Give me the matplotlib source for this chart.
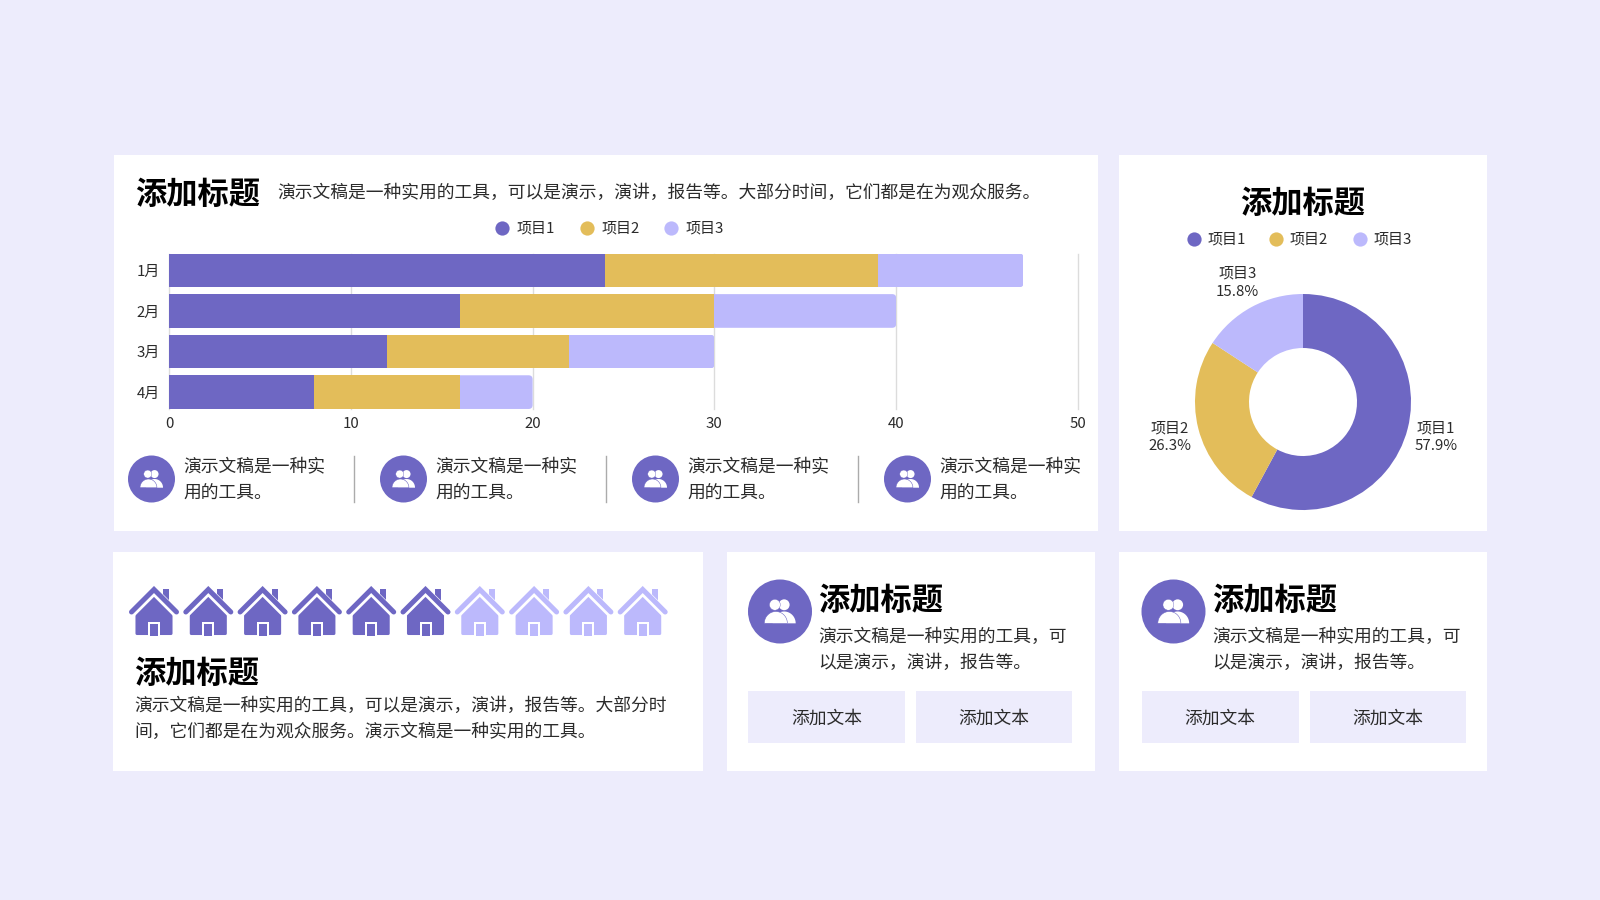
import numpy as np
import matplotlib
matplotlib.use("Agg")
import matplotlib.pyplot as plt
from matplotlib.patches import Rectangle, Circle, Polygon, FancyBboxPatch

plt.rcParams['font.family'] = ['Noto Sans CJK SC', 'DejaVu Sans']

# data
months = ["1月", "2月", "3月", "4月"]
item1 = [24, 16, 12, 8]
item2 = [15, 14, 10, 8]
item3 = [8, 10, 8, 4]
x_ticks = [0, 10, 20, 30, 40, 50]
names = ["项目1", "项目2", "项目3"]
pie_values = [22, 10, 6]
houses_total = 10
houses_on = 6

title = "添加标题"
long_text = "演示文稿是一种实用的工具，可以是演示，演讲，报告等。大部分时间，它们都是在为观众服务。"
short_lines = ["演示文稿是一种实", "用的工具。"]
card_lines = ["演示文稿是一种实用的工具，可", "以是演示，演讲，报告等。"]
wide_lines = ["演示文稿是一种实用的工具，可以是演示，演讲，报告等。大部分时", "间，它们都是在为观众服务。演示文稿是一种实用的工具。"]
button_text = "添加文本"

PURPLE = "#6E67C3"
GOLD = "#E3BD5A"
LAV = "#BCB9FC"
BG = "#EDECFC"
TXT = "#2B2B2B"
colors = [PURPLE, GOLD, LAV]

BODY = 12.8
SMALL = 10.8
HEAD = 22.5

fig = plt.figure(figsize=(16, 9), dpi=100, facecolor=BG)

# page layer in pixel coordinates
page = fig.add_axes([0, 0, 1, 1])
page.set_xlim(0, 1600)
page.set_ylim(900, 0)
page.axis("off")


def px_axes(left, top, right, bottom):
    return fig.add_axes([left / 1600, 1 - bottom / 900, (right - left) / 1600, (bottom - top) / 900])


def panel(x0, y0, x1, y1, color="white"):
    page.add_patch(Rectangle((x0, y0), x1 - x0, y1 - y0, fc=color, ec="none"))


def put(x, y, s, size=BODY, weight="normal", color=TXT, ha="left"):
    page.text(x, y, s, fontsize=size, fontweight=weight, color=color, ha=ha, va="center")


def people_icon(cx, cy, r):
    page.add_patch(Circle((cx, cy), r, fc=PURPLE, ec="none"))
    t = np.linspace(np.pi, 0, 40)
    # back person
    page.add_patch(Circle((cx + 0.13 * r, cy - 0.21 * r), 0.17 * r, fc="white", ec="none"))
    page.add_patch(Polygon(np.c_[cx + 0.13 * r + 0.36 * r * np.cos(t), cy + 0.37 * r - 0.37 * r * np.sin(t)],
                           fc="white", ec="none"))
    # front person, thin gap against the back one
    page.add_patch(Circle((cx - 0.16 * r, cy - 0.21 * r), 0.17 * r, fc="white", ec=PURPLE, lw=0.3))
    page.add_patch(Polygon(np.c_[cx - 0.13 * r + 0.36 * r * np.cos(t), cy + 0.37 * r - 0.37 * r * np.sin(t)],
                           fc="white", ec=PURPLE, lw=0.4))


def house(cx, color):
    top = 587
    body = [(cx, top + 9), (cx + 17, top + 26), (cx + 17, top + 46.5), (cx - 17, top + 46.5), (cx - 17, top + 26)]
    page.add_patch(Polygon(body, fc=color, ec=color, lw=2.2, joinstyle="round"))
    # white band between roof and body
    page.plot([cx - 22, cx, cx + 22], [top + 26, top + 4, top + 26], color="white", lw=6, solid_capstyle="butt")
    page.add_patch(Rectangle((cx + 9, top + 2), 6, 13, fc=color, ec="none"))
    page.plot([cx - 22.5, cx, cx + 22.5], [top + 25, top + 2.5, top + 25], color=color, lw=3.6,
              solid_capstyle="round", solid_joinstyle="miter")
    # door, open at the bottom
    page.add_patch(Rectangle((cx - 6, top + 35), 12, 13.5, fc="white", ec="none"))
    page.add_patch(Rectangle((cx - 4, top + 37), 8, 11.5, fc=color, ec="none"))


def legend_row(dots, texts, y):
    for dot, tx, name, c in zip(dots, texts, names, colors):
        page.scatter([dot], [y], s=105, color=c, linewidths=0)
        put(tx, y + 0.5, name, size=SMALL)


# panels
panel(114, 155, 1098, 531)
panel(1119, 155, 1487, 531)
panel(113, 552, 703, 771)
panel(727, 552, 1095, 771)
panel(1119, 552, 1487, 771)

# top left header
put(135, 195, title, size=HEAD, weight="bold", color="black")
put(277, 193, long_text)
legend_row([502, 587, 671], [517, 602, 686], 227.5)

# stacked bars
ax = px_axes(169, 253.5, 1078, 409)
ax.patch.set_alpha(0)
ypos = np.arange(len(months))
a = np.array(item1)
b = np.array(item2)
c = np.array(item3)
ax.barh(ypos, a, height=0.83, color=PURPLE, zorder=2)
ax.barh(ypos, b, left=a, height=0.83, color=GOLD, zorder=2)
bars3 = ax.barh(ypos, c, left=a + b, height=0.83, color=LAV, zorder=2)
ax.set_xlim(0, 50)
ax.set_ylim(3.416, -0.416)
ax.set_xticks(x_ticks)
ax.set_yticks(ypos)
ax.set_yticklabels(months)
ax.tick_params(length=0, labelsize=SMALL, labelcolor=TXT, pad=6.5)
ax.tick_params(axis="x", pad=5.5)
ax.grid(axis="x", color="#DCDCDC", lw=1, zorder=0, clip_on=False)
for s in ax.spines.values():
    s.set_visible(False)
# only the outer end of the last segment is rounded
for bar in bars3:
    x, y, w, h = bar.get_x(), bar.get_y(), bar.get_width(), bar.get_height()
    clip = FancyBboxPatch((x - 1, y), w + 1, h, boxstyle="round,pad=0,rounding_size=0.22",
                          mutation_aspect=0.45, transform=ax.transData, fc="none", ec="none")
    bar.set_clip_path(clip)

# small items under the bars
for i in range(4):
    dx = 252 * i
    people_icon(151.5 + dx, 479, 23.5)
    put(183.5 + dx, 467.5, short_lines[0])
    put(183.5 + dx, 494, short_lines[1])
    if i < 3:
        page.plot([353.7 + dx, 353.7 + dx], [456, 502], color="#ABABAB", lw=1)

# donut
put(1303, 204, title, size=HEAD, weight="bold", color="black", ha="center")
legend_row([1194, 1276, 1360], [1208, 1290, 1374], 239)
pie_ax = px_axes(1303 - 162, 402 - 162, 1303 + 162, 402 + 162)
total = sum(pie_values)
labels = [f"{n}\n{v / total * 100:.1f}%" for n, v in zip(names, pie_values)]
wedges, texts = pie_ax.pie(pie_values, colors=colors, startangle=90, counterclock=False, radius=1,
                           labels=labels, labeldistance=1.27, wedgeprops={"width": 0.5, "linewidth": 0})
for t in texts:
    t.set_ha("center")
    t.set_fontsize(SMALL)
    t.set_color(TXT)
    t.set_linespacing(1.35)
    lx, ly = t.get_position()
    t.set_position((lx, ly - 0.012))
pie_ax.set_xlim(-1.5, 1.5)
pie_ax.set_ylim(-1.5, 1.5)

# pictogram panel
for i in range(houses_total):
    house(154 + 54.3 * i, PURPLE if i < houses_on else LAV)
put(134, 674, title, size=HEAD, weight="bold", color="black")
put(134, 706, wide_lines[0])
put(134, 732, wide_lines[1])

# two cards
for off in [0, 393.5]:
    people_icon(780 + off, 611.5, 32)
    put(818.5 + off, 601, title, size=HEAD, weight="bold", color="black")
    put(818.5 + off, 637, card_lines[0])
    put(818.5 + off, 663, card_lines[1])
    for x0, x1 in [(748, 905), (916, 1072)]:
        panel(x0 + off, 691, x1 + off, 742.5, BG)
        put((x0 + x1) / 2 + off, 718.5, button_text, ha="center")

fig.savefig("out.png", dpi=100, facecolor=BG)
